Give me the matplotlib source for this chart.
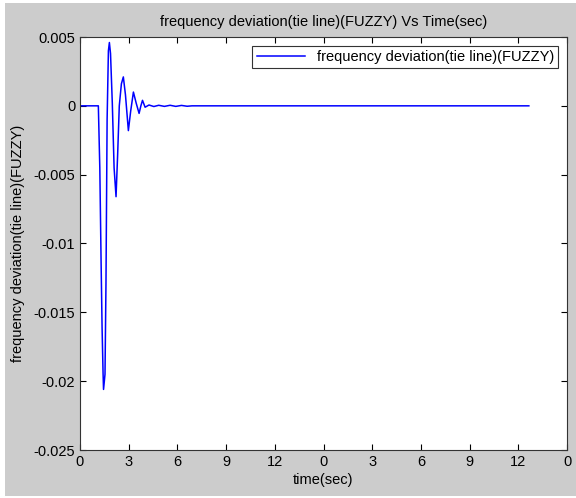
import numpy as np
import matplotlib.pyplot as plt
from matplotlib.patches import Rectangle

# time samples (axis units) and tie-line frequency deviation
t = [0, 1.13, 1.22, 1.30, 1.36, 1.42, 1.45, 1.54, 1.60, 1.67, 1.75, 1.81, 1.88, 1.99, 2.10,
     2.22, 2.32, 2.42, 2.55, 2.67, 2.80, 2.98, 3.12, 3.29, 3.46, 3.64, 3.75, 3.85, 4.01,
     4.25, 4.55, 4.85, 5.2, 5.55, 5.9, 6.25, 6.6, 6.9, 27.65]
dev = [0, 0, -0.0045, -0.0114, -0.0161, -0.0194, -0.0206, -0.0195, -0.0129, -0.0010, 0.0040,
       0.0046, 0.0038, 0.0002, -0.0045, -0.0066, -0.0035, 0.0000, 0.0016, 0.0021, 0.0008,
       -0.0018, -0.0004, 0.0010, 0.0002, -0.00055, 0.0000, 0.0004, -0.0001,
       0.00006, -0.00005, 0.00004, -0.00004, 0.00004, -0.00004, 0.00003, -0.00003, 0, 0]

xticks = np.arange(0, 31, 3)
xtick_labels = ['0', '3', '6', '9', '12', '0', '3', '6', '9', '12', '0']
yticks = [-0.025, -0.02, -0.015, -0.01, -0.005, 0, 0.005]
ytick_labels = ['-0.025', '-0.02', '-0.015', '-0.01', '-0.005', '0', '0.005']

plt.rcParams['font.family'] = ['Liberation Sans', 'DejaVu Sans']
plt.rcParams['font.size'] = 10

fig = plt.figure(figsize=(5.76, 4.98), dpi=100, facecolor='white')
fig.patches.append(Rectangle((5 / 576, 0.004), 1, 0.99, transform=fig.transFigure,
                             facecolor='#cccccc', edgecolor='none', zorder=-10))

ax = fig.add_axes([80 / 576, 1 - 450 / 498, 487 / 576, 413 / 498])
ax.plot(t, dev, color='blue', lw=1.1, label='frequency deviation(tie line)(FUZZY)')

ax.set_xlim(0, 30)
ax.set_ylim(-0.025, 0.005)
ax.set_xticks(xticks)
ax.set_xticklabels(xtick_labels)
ax.set_yticks(yticks)
ax.set_yticklabels(ytick_labels)
ax.tick_params(direction='in', top=True, right=True, length=4, width=0.8, labelsize=10.5)
for s in ax.spines.values():
    s.set_linewidth(0.8)
    s.set_color('#333333')

ax.set_title('frequency deviation(tie line)(FUZZY) Vs Time(sec)', fontsize=10.5, pad=8)
ax.set_xlabel('time(sec)', fontsize=10.5, labelpad=3)
ax.set_ylabel('frequency deviation(tie line)(FUZZY)', fontsize=10.5, labelpad=6)

leg = ax.legend(loc='upper right', fontsize=10.5, fancybox=False, framealpha=1,
                edgecolor='#333333', handlelength=3.3, borderaxespad=0.6,
                borderpad=0.3)
leg.get_frame().set_linewidth(0.8)

fig.savefig('out.png', dpi=100)
